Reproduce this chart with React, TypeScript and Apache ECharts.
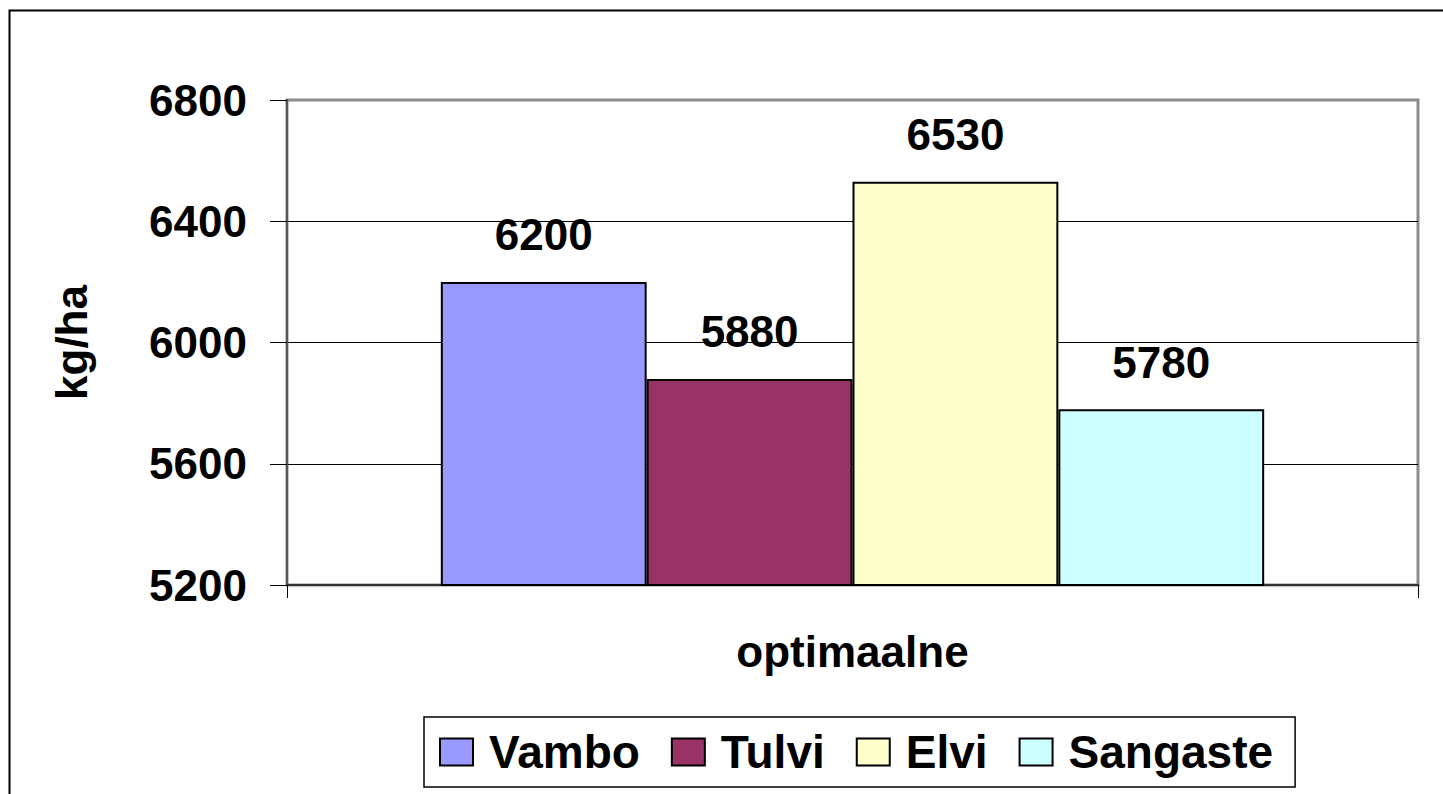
import React, { useEffect, useRef } from "react";
import * as echarts from "echarts";

const categories = ["optimaalne"];
const seriesNames = ["Vambo", "Tulvi", "Elvi", "Sangaste"];
const vamboValues = [6200];
const tulviValues = [5880];
const elviValues = [6530];
const sangasteValues = [5780];
const yTicks = [5200, 5600, 6000, 6400, 6800];
const yAxisName = "kg/ha";
const colors = ["#9999FF", "#993366", "#FFFFCC", "#CCFFFF"];

const FONT = "'Liberation Sans', Arial, Helvetica, sans-serif";

export default function App() {
  const ref = useRef<HTMLDivElement>(null);

  useEffect(() => {
    if (!ref.current) return;
    const chart = echarts.init(ref.current, undefined, { renderer: "svg" });
    const values = [vamboValues, tulviValues, elviValues, sangasteValues];

    const series = seriesNames.map((name, i) => ({
      name,
      type: "bar",
      data: values[i],
      barGap: "0%",
      barCategoryGap: "27.2%",
      itemStyle: { color: colors[i], borderColor: "#000", borderWidth: 2 },
      label: {
        show: true,
        position: "top",
        distance: 25,
        color: "#000",
        fontFamily: FONT,
        fontWeight: "bold",
        fontSize: 44,
      },
    }));

    chart.setOption({
      animation: false,
      backgroundColor: "#fff",
      graphic: [
        {
          type: "rect",
          shape: { x: 9.5, y: 10.5, width: 1500, height: 900 },
          style: { fill: "none", stroke: "#000", lineWidth: 2 },
          silent: true,
          z: 0,
        },
      ],
      grid: {
        left: 287,
        top: 100,
        right: 25,
        bottom: 209,
        show: true,
        borderColor: "#8c8c8c",
        borderWidth: 3,
        backgroundColor: "transparent",
      },
      legend: {
        left: 424,
        top: 717,
        padding: [12, 22, 12, 15],
        borderColor: "#000",
        borderWidth: 1.5,
        itemWidth: 33,
        itemHeight: 27,
        itemGap: 31,
        icon: "rect",
        itemStyle: { borderColor: "#000", borderWidth: 2 },
        textStyle: {
          fontFamily: FONT,
          fontWeight: "bold",
          fontSize: 46,
          color: "#000",
          padding: [0, 0, 0, 11],
        },
        data: seriesNames,
      },
      xAxis: {
        type: "category",
        data: categories,
        axisLine: { show: true, lineStyle: { color: "#333", width: 2 } },
        axisTick: { show: true, length: 13, lineStyle: { color: "#000", width: 1 } },
        axisLabel: {
          margin: 44,
          color: "#000",
          fontFamily: FONT,
          fontWeight: "bold",
          fontSize: 44,
        },
      },
      yAxis: {
        type: "value",
        min: yTicks[0],
        max: yTicks[yTicks.length - 1],
        interval: yTicks[1] - yTicks[0],
        name: yAxisName,
        nameLocation: "middle",
        nameGap: 194,
        nameRotate: 90,
        nameTextStyle: {
          color: "#000",
          fontFamily: FONT,
          fontWeight: "bold",
          fontSize: 44,
        },
        axisLine: { show: true, lineStyle: { color: "#555", width: 2 } },
        axisTick: { show: true, length: 17, lineStyle: { color: "#000", width: 1 } },
        axisLabel: {
          margin: 40,
          color: "#000",
          fontFamily: FONT,
          fontWeight: "bold",
          fontSize: 44,
          formatter: (v: number) => String(v),
        },
        splitLine: {
          show: true,
          showMinLine: false,
          showMaxLine: false,
          lineStyle: { color: "#000", width: 1 },
        },
      },
      series,
    });

    return () => chart.dispose();
  }, []);

  return (
    <div
      ref={ref}
      style={{ position: "absolute", left: 0, top: 0, width: 1443, height: 794 }}
    />
  );
}
